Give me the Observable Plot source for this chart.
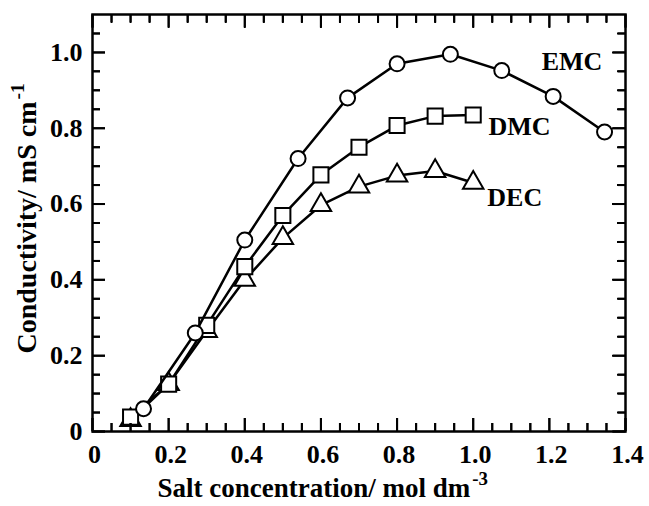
<!DOCTYPE html>
<html><head><meta charset="utf-8">
<script src="https://cdn.jsdelivr.net/npm/d3@7"></script>
<script src="https://cdn.jsdelivr.net/npm/@observablehq/plot@0.6"></script>
<style>
body{margin:0;background:#fff;color:#000}
#chart svg{font-family:'Liberation Serif','Times New Roman',serif;background:#fff}
</style>
</head><body><div id="chart"></div>
<script>
const emcX = [0.134, 0.27, 0.40, 0.54, 0.67, 0.80, 0.94, 1.075, 1.21, 1.345];
const emcY = [0.06, 0.26, 0.505, 0.72, 0.88, 0.97, 0.995, 0.952, 0.884, 0.79];
const dmcX = [0.1, 0.2, 0.3, 0.4, 0.5, 0.6, 0.7, 0.8, 0.9, 1.0];
const dmcY = [0.038, 0.125, 0.28, 0.435, 0.57, 0.677, 0.75, 0.807, 0.832, 0.835];
const decX = [0.1, 0.2, 0.3, 0.4, 0.5, 0.6, 0.7, 0.8, 0.9, 1.0];
const decY = [0.03, 0.125, 0.265, 0.40, 0.51, 0.597, 0.646, 0.675, 0.687, 0.656];
const seriesNames = ["EMC", "DMC", "DEC"];
const labelX = [1.18, 1.04, 1.037];
const labelY = [0.976, 0.805, 0.617];
const xMajor = [0, 0.2, 0.4, 0.6, 0.8, 1.0, 1.2, 1.4];
const xMinor = [0.05,0.1,0.15,0.25,0.3,0.35,0.45,0.5,0.55,0.65,0.7,0.75,0.85,0.9,0.95,1.05,1.1,1.15,1.25,1.3,1.35];
const yMajor = [0, 0.2, 0.4, 0.6, 0.8, 1.0];
const yMinor = [0.05,0.1,0.15,0.25,0.3,0.35,0.45,0.5,0.55,0.65,0.7,0.75,0.85,0.9,0.95,1.05];
const xTitle = "Salt concentration/ mol dm";
const xTitleSup = "-3";
const yTitle = "Conductivity/ mS cm";
const yTitleSup = "-1";

const emc = emcX.map((x, i) => ({x, y: emcY[i]}));
const dmc = dmcX.map((x, i) => ({x, y: dmcY[i]}));
const dec = decX.map((x, i) => ({x, y: decY[i]}));
const labels = seriesNames.map((name, i) => ({name, x: labelX[i], y: labelY[i]}));
const fmt = d => d === 0 ? "0" : d3.format(".1f")(d);
const blank = () => "";
const font = "'Liberation Serif', 'Times New Roman', serif";

const W = 649, H = 506, ML = 92, MR = 24, MT = 14, MB = 75;
const majorLen = 13, minorLen = 8;
const titleSize = 28;

const lineOpts = {x: "x", y: "y", stroke: "black", strokeWidth: 2.5};
const dotOpts = {x: "x", y: "y", fill: "white", stroke: "black", strokeWidth: 2};
const txt = {fontFamily: font, fontWeight: "bold", fill: "black"};
const tickAx = (anchor, ticks, len, off) => {
  const o = {anchor, tickSize: len, tickFormat: blank, label: null, stroke: "black", strokeWidth: 2};
  if (anchor === "bottom") o.dy = -len;
  if (anchor === "top") o.dy = len;
  if (anchor === "left") o.dx = len;
  if (anchor === "right") o.dx = -len;
  return (anchor === "bottom" || anchor === "top") ? Plot.axisX(ticks, o) : Plot.axisY(ticks, o);
};

const chart = Plot.plot({
  width: W, height: H,
  marginLeft: ML, marginRight: MR, marginTop: MT, marginBottom: MB,
  x: {domain: [0, 1.4]},
  y: {domain: [0, 1.1]},
  marks: [
    Plot.frame({fill: "none", stroke: "black", strokeWidth: 2.5}),
    Plot.axisX(xMajor, {anchor: "bottom", tickSize: 0, tickPadding: 13, tickFormat: fmt, label: null, fontSize: 26, dx: 2, ...txt}),
    Plot.axisY(yMajor, {anchor: "left", tickSize: 0, tickPadding: 10, tickFormat: fmt, label: null, fontSize: 26, ...txt}),
    Plot.line(dec, lineOpts),
    Plot.dot(dec, {...dotOpts, symbol: "triangle", r: 7.6}),
    Plot.line(dmc, lineOpts),
    Plot.dot(dmc, {...dotOpts, symbol: "square", r: 8.5}),
    Plot.line(emc, lineOpts),
    Plot.dot(emc, {...dotOpts, symbol: "circle", r: 7.5}),
    Plot.text(labels, {x: "x", y: "y", text: "name", textAnchor: "start", fontSize: 26, ...txt}),
    Plot.text([xTitle], {frameAnchor: "bottom-left", text: d => d, textAnchor: "start", dx: 65, dy: 65, fontSize: 27, ...txt}),
    Plot.text([yTitle], {frameAnchor: "bottom-left", text: d => d, textAnchor: "start", rotate: -90, dx: -57, dy: -78, fontSize: titleSize, ...txt}),
    tickAx("bottom", xMajor, majorLen), tickAx("bottom", xMinor, minorLen),
    tickAx("top", xMajor, majorLen), tickAx("top", xMinor, minorLen),
    tickAx("left", yMajor, majorLen), tickAx("left", yMinor, minorLen),
    tickAx("right", yMajor, majorLen), tickAx("right", yMinor, minorLen)
  ]
});
document.getElementById("chart").appendChild(chart);

// Inward ticks again, positioned with the plot's own scales (same places as the tick axes above)
const sx = chart.scale("x"), sy = chart.scale("y");
const x0 = sx.apply(0), x1 = sx.apply(1.4), y0 = sy.apply(0), y1 = sy.apply(1.1);
const tg = d3.select(chart).append("g").attr("stroke", "black").attr("stroke-width", 2).attr("fill", "none");
const addTicks = (vals, len) => {
  vals.forEach(v => {
    const px = sx.apply(v) + 0.5;
    tg.append("path").attr("d", `M${px},${y0}V${y0 - len}M${px},${y1}V${y1 + len}`);
  });
};
const addTicksY = (vals, len) => {
  vals.forEach(v => {
    const py = sy.apply(v) + 0.5;
    tg.append("path").attr("d", `M${x0},${py}H${x0 + len}M${x1},${py}H${x1 - len}`);
  });
};
addTicks(xMajor, majorLen); addTicks(xMinor, minorLen);
addTicksY(yMajor, majorLen); addTicksY(yMinor, minorLen);

function addSup(base, sup, fs) {
  d3.select(chart).selectAll("text").filter(function() { return this.textContent === base; })
    .append("tspan").attr("dx", 2).attr("dy", -0.42 * fs).attr("font-size", 0.7 * fs).text(sup);
}
addSup(xTitle, xTitleSup, 27);
addSup(yTitle, yTitleSup, titleSize);
</script>
</body></html>
